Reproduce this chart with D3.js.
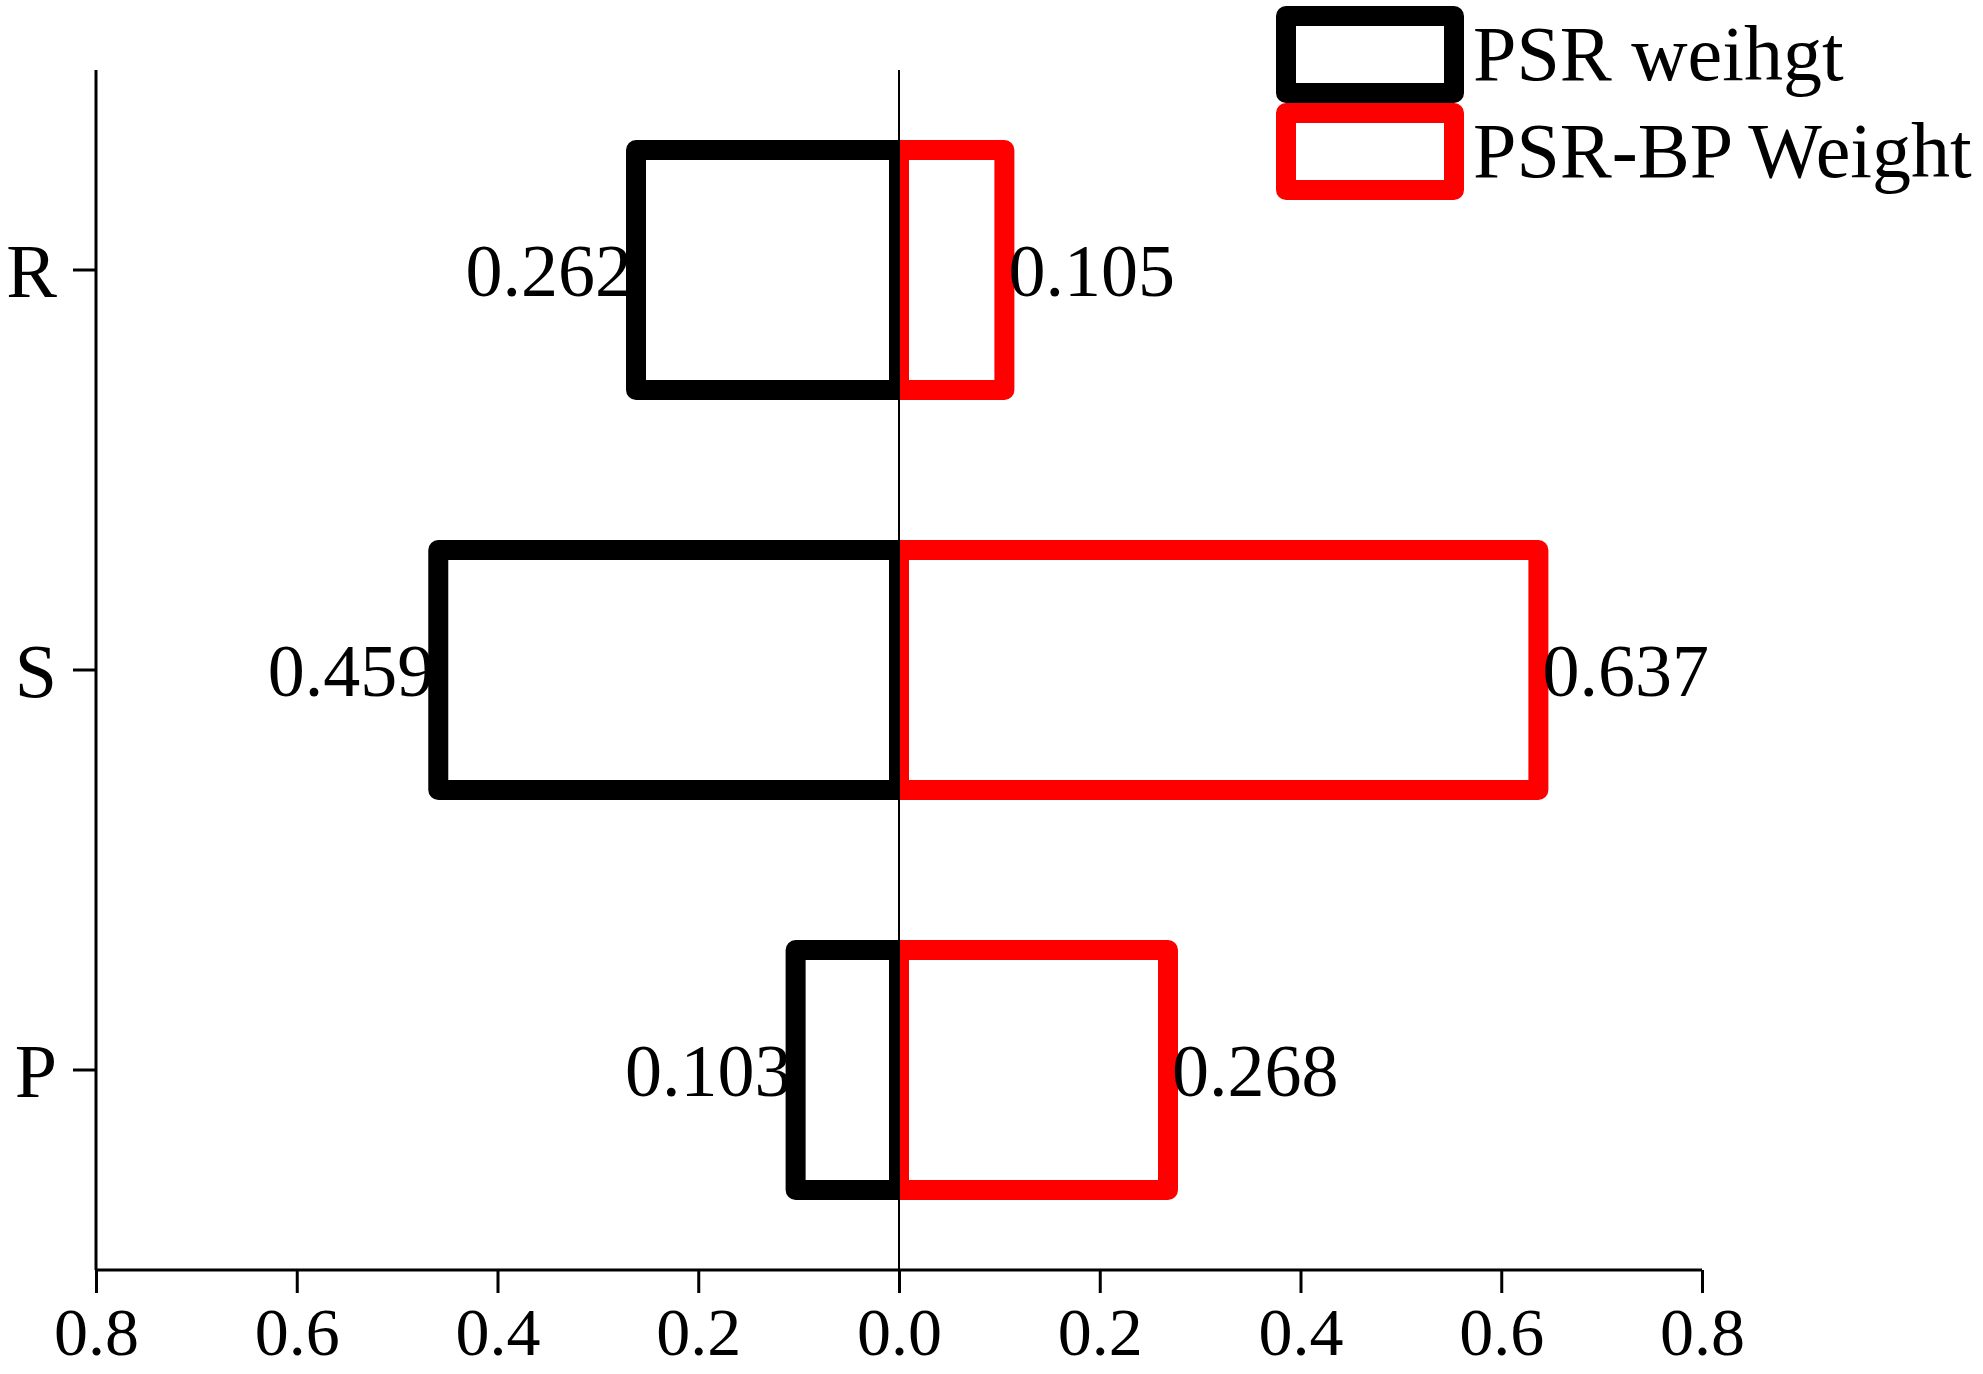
<!DOCTYPE html>
<html>
<head>
<meta charset="utf-8">
<script src="https://cdn.jsdelivr.net/npm/d3@7"></script>
<style>
  body { margin: 0; background: #fff; }
  text { font-family: "Liberation Serif", "Times New Roman", serif; fill: #000; }
</style>
</head>
<body>
<script>
'use strict';

// categories, top to bottom
const categories = ["R", "S", "P"];
// left side (drawn towards negative x)
const psrWeight = [0.262, 0.459, 0.103];
// right side
const psrBpWeight = [0.105, 0.637, 0.268];
const xTicks = [-0.8, -0.6, -0.4, -0.2, 0.0, 0.2, 0.4, 0.6, 0.8];
const seriesNames = ["PSR weihgt", "PSR-BP Weight"];
const seriesColors = ["#000000", "#ff0000"];

(function () {
  let svgContainer = "";

  window.onload = function () {
    svgContainer = d3.select('body')
      .append('svg')
      .attr('width', 1983)
      .attr('height', 1374);

    drawChart();
  }

  function drawChart() {
    let xScale = d3.scaleLinear()
      .domain([-0.8, 0.8])
      .range([96, 1702]);

    let yScale = d3.scaleBand()
      .domain(categories)
      .range([70, 1270])
      .paddingInner(0.4)
      .paddingOuter(0.2);

    let zero = xScale(0);

    // clip each series to its own side of the zero line
    let defs = svgContainer.append('defs');
    defs.append('clipPath').attr('id', 'clipLeft')
      .append('rect')
      .attr('x', 0).attr('y', 0)
      .attr('width', zero).attr('height', 1374);
    defs.append('clipPath').attr('id', 'clipRight')
      .append('rect')
      .attr('x', zero).attr('y', 0)
      .attr('width', 1983 - zero).attr('height', 1374);

    // x axis
    let xAxis = d3.axisBottom(xScale)
      .tickValues(xTicks)
      .tickSize(23)
      .tickPadding(11)
      .tickFormat(d => d3.format(".1f")(Math.abs(d)));
    let gx = svgContainer.append('g')
      .attr('class', 'axis')
      .attr('transform', 'translate(0, 1270)')
      .call(xAxis);
    gx.select('.domain').attr('stroke-width', 3).attr('d', `M${xScale(-0.8)},0H${xScale(0.8)}`);
    gx.selectAll('.tick line').attr('stroke-width', 3);
    gx.selectAll('text')
      .style('font-size', '68px')
      .attr('dy', '0.75em');

    // y axis
    let yAxis = d3.axisLeft(yScale)
      .tickSize(23)
      .tickPadding(16);
    let gy = svgContainer.append('g')
      .attr('class', 'axis')
      .attr('transform', `translate(${xScale(-0.8)}, 0)`)
      .call(yAxis);
    gy.select('.domain').attr('stroke-width', 3).attr('d', 'M0,70V1270');
    gy.selectAll('.tick line').attr('stroke-width', 3);
    gy.selectAll('text')
      .style('font-size', '76px')
      .attr('dy', '0.35em');

    // left bars
    svgContainer.append('g')
      .attr('clip-path', 'url(#clipLeft)')
      .selectAll('.barL')
      .data(categories)
      .enter()
      .append('rect')
      .attr('class', 'barL')
      .attr('x', (d, i) => xScale(-psrWeight[i]))
      .attr('y', d => yScale(d))
      .attr('width', (d, i) => zero - xScale(-psrWeight[i]))
      .attr('height', yScale.bandwidth())
      .attr('fill', 'none')
      .attr('stroke', seriesColors[0])
      .attr('stroke-width', 20)
      .attr('stroke-linejoin', 'round');

    // right bars
    svgContainer.append('g')
      .attr('clip-path', 'url(#clipRight)')
      .selectAll('.barR')
      .data(categories)
      .enter()
      .append('rect')
      .attr('class', 'barR')
      .attr('x', zero)
      .attr('y', d => yScale(d))
      .attr('width', (d, i) => xScale(psrBpWeight[i]) - zero)
      .attr('height', yScale.bandwidth())
      .attr('fill', 'none')
      .attr('stroke', seriesColors[1])
      .attr('stroke-width', 20)
      .attr('stroke-linejoin', 'round');

    // zero line
    svgContainer.append('line')
      .attr('x1', zero).attr('x2', zero)
      .attr('y1', 70).attr('y2', 1270)
      .attr('stroke', '#000')
      .attr('stroke-width', 2);

    // value labels
    svgContainer.selectAll('.lblL')
      .data(categories)
      .enter()
      .append('text')
      .attr('class', 'lblL')
      .attr('x', (d, i) => xScale(-psrWeight[i]) - 4)
      .attr('y', d => yScale(d) + yScale.bandwidth() / 2)
      .attr('dy', '0.35em')
      .attr('text-anchor', 'end')
      .style('font-size', '74px')
      .text((d, i) => psrWeight[i].toFixed(3));

    svgContainer.selectAll('.lblR')
      .data(categories)
      .enter()
      .append('text')
      .attr('class', 'lblR')
      .attr('x', (d, i) => xScale(psrBpWeight[i]) + 4)
      .attr('y', d => yScale(d) + yScale.bandwidth() / 2)
      .attr('dy', '0.35em')
      .style('font-size', '74px')
      .text((d, i) => psrBpWeight[i].toFixed(3));

    makeLegend();
  }

  function makeLegend() {
    let legend = svgContainer.append('g')
      .attr('transform', 'translate(1286, 16)');

    legend.selectAll('rect')
      .data(seriesNames)
      .enter()
      .append('rect')
      .attr('x', 0)
      .attr('y', (d, i) => i * 97)
      .attr('width', 168)
      .attr('height', 77)
      .attr('fill', 'none')
      .attr('stroke', (d, i) => seriesColors[i])
      .attr('stroke-width', 20)
      .attr('stroke-linejoin', 'round');

    legend.selectAll('text')
      .data(seriesNames)
      .enter()
      .append('text')
      .attr('x', 187)
      .attr('y', (d, i) => i * 97 + 64)
      .style('font-size', '78px')
      .text(d => d);
  }

})();
</script>
</body>
</html>
